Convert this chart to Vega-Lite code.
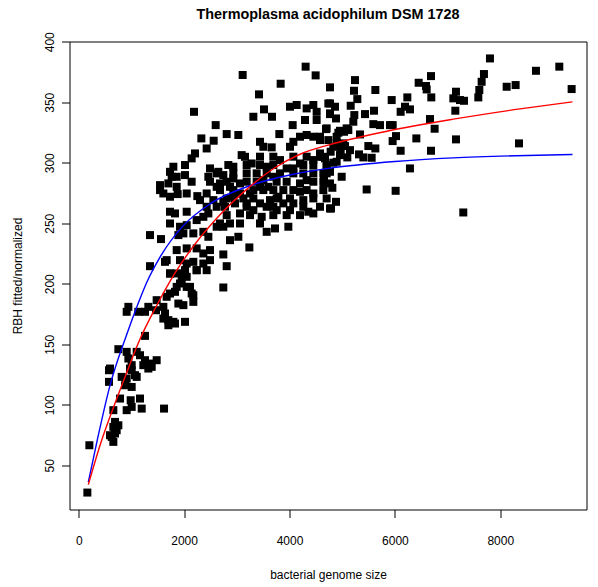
{
  "$schema": "https://vega.github.io/schema/vega-lite/v6.json",
  "width": 517,
  "height": 468,
  "autosize": "none",
  "padding": {"left": 69.5, "top": 41.5, "right": 11.5, "bottom": 77.5},
  "background": "white",
  "config": {
    "view": {"stroke": "black", "strokeWidth": 1},
    "font": "Liberation Sans",
    "axis": {
      "domain": false,
      "grid": false,
      "tickColor": "black",
      "tickSize": 8,
      "tickWidth": 1,
      "labelFont": "Liberation Sans",
      "labelFontSize": 12,
      "labelColor": "black",
      "titleFont": "Liberation Sans",
      "titleFontSize": 12,
      "titleFontWeight": "normal",
      "titleColor": "black"
    }
  },
  "title": {
    "text": "Thermoplasma acidophilum DSM 1728",
    "font": "Liberation Sans",
    "fontSize": 14.4,
    "fontWeight": "bold",
    "color": "black",
    "anchor": "middle",
    "offset": 9
  },
  "datasets": {
    "points": [
      {"x":164,"y":27.4},{"x":202,"y":66.5},{"x":657,"y":69.3},{"x":626,"y":73.4},{"x":689,"y":76.2},{"x":720,"y":78.9},{"x":752,"y":83.0},{"x":657,"y":81.7},{"x":689,"y":85.8},{"x":594,"y":74.8},
      {"x":657,"y":95.5},{"x":784,"y":105.1},{"x":986,"y":103.7},{"x":1005,"y":98.2},{"x":910,"y":95.5},{"x":1163,"y":105.1},{"x":1195,"y":96.8},{"x":1619,"y":96.8},{"x":575,"y":118.9},{"x":575,"y":128.5},
      {"x":594,"y":129.9},{"x":815,"y":123.0},{"x":879,"y":116.1},{"x":1005,"y":114.7},{"x":910,"y":121.6},{"x":973,"y":129.9},{"x":1005,"y":132.7},{"x":1068,"y":124.4},{"x":1100,"y":123.0},{"x":1005,"y":128.5},
      {"x":752,"y":145.9},{"x":910,"y":143.7},{"x":942,"y":138.2},{"x":1100,"y":143.7},{"x":1163,"y":140.9},{"x":1258,"y":136.8},{"x":1226,"y":132.7},{"x":1321,"y":129.9},{"x":1353,"y":134.0},{"x":1479,"y":136.8},
      {"x":1385,"y":131.3},{"x":1258,"y":156.9},{"x":942,"y":180.9},{"x":910,"y":176.8},{"x":1131,"y":176.8},{"x":1258,"y":176.8},{"x":1321,"y":180.9},{"x":1479,"y":186.4},{"x":1467,"y":178.1},{"x":1606,"y":180.9},
      {"x":1637,"y":175.4},{"x":1606,"y":171.2},{"x":1701,"y":169.9},{"x":1701,"y":165.7},{"x":1796,"y":168.5},{"x":1827,"y":167.1},{"x":2017,"y":168.5},{"x":1669,"y":189.2},{"x":1732,"y":191.9},{"x":1827,"y":193.3},
      {"x":1859,"y":197.4},{"x":1922,"y":200.2},{"x":1954,"y":202.9},{"x":2049,"y":205.7},{"x":2049,"y":197.4},{"x":2112,"y":197.4},{"x":2144,"y":191.9},{"x":2175,"y":190.5},{"x":2175,"y":185.0},{"x":1891,"y":183.6},
      {"x":1986,"y":182.3},{"x":1732,"y":208.4},{"x":2238,"y":211.2},{"x":2744,"y":196.9},
      {"x":3111,"y":372.5},{"x":4306,"y":379.4},{"x":4496,"y":372.2},{"x":3832,"y":365.3},{"x":3421,"y":356.5},{"x":2188,"y":342.1},{"x":3516,"y":344.1},{"x":3314,"y":338.0},{"x":3668,"y":338.0},{"x":2599,"y":331.1},
      {"x":4009,"y":346.3},{"x":4136,"y":347.7},{"x":4325,"y":344.9},{"x":4452,"y":347.7},{"x":4515,"y":342.1},{"x":4768,"y":349.0},{"x":4768,"y":340.8},{"x":4294,"y":335.3},{"x":4515,"y":335.3},{"x":4060,"y":331.1},
      {"x":2808,"y":323.7},{"x":3029,"y":322.9},{"x":2327,"y":320.1},{"x":2561,"y":318.2},{"x":2428,"y":311.8},{"x":3440,"y":317.3},{"x":3504,"y":313.2},{"x":3662,"y":312.7},{"x":3807,"y":323.7},{"x":4199,"y":321.5},
      {"x":4073,"y":317.3},{"x":4009,"y":313.2},{"x":4325,"y":322.9},{"x":4452,"y":321.5},{"x":4579,"y":318.7},{"x":4705,"y":328.4},{"x":2207,"y":307.7},{"x":2143,"y":303.6},{"x":1796,"y":296.7},{"x":1764,"y":288.4},
      {"x":2017,"y":298.1},{"x":2017,"y":289.8},{"x":1543,"y":281.5},{"x":1701,"y":282.9},{"x":1606,"y":274.6},{"x":1859,"y":280.1},{"x":1878,"y":274.1},{"x":2143,"y":284.3},{"x":2491,"y":295.3},{"x":2460,"y":288.4},
      {"x":2649,"y":292.5},{"x":2744,"y":289.8},{"x":2681,"y":282.9},{"x":2839,"y":298.1},{"x":2934,"y":296.7},{"x":3092,"y":306.3},{"x":3155,"y":304.9},{"x":3282,"y":299.4},{"x":3377,"y":291.2},{"x":3187,"y":291.2},
      {"x":2934,"y":287.0},{"x":3061,"y":282.9},{"x":2871,"y":280.1},{"x":2618,"y":280.1},{"x":2251,"y":272.4},{"x":2428,"y":274.6},{"x":2555,"y":269.1},{"x":2744,"y":267.7},{"x":2934,"y":271.9},{"x":3061,"y":274.6},
      {"x":3250,"y":274.6},{"x":3440,"y":280.1},{"x":3598,"y":280.1},{"x":3693,"y":277.4},{"x":3788,"y":271.9},{"x":3820,"y":302.2},{"x":3946,"y":295.3},{"x":4073,"y":295.3},{"x":4199,"y":299.4},{"x":4452,"y":302.2},
      {"x":4642,"y":304.9},{"x":4579,"y":307.7},{"x":3693,"y":288.4},{"x":3504,"y":285.6},{"x":3567,"y":296.7},{"x":3630,"y":269.1},{"x":3440,"y":266.4},{"x":3187,"y":266.4},{"x":2966,"y":266.4},{"x":2776,"y":263.6},
      {"x":3061,"y":258.1},{"x":3314,"y":260.8},{"x":3472,"y":255.3},{"x":3567,"y":263.6},{"x":3757,"y":260.8},{"x":3883,"y":266.4},{"x":4009,"y":260.8},{"x":4073,"y":266.4},{"x":4262,"y":269.1},{"x":4199,"y":276.0},
      {"x":4452,"y":274.6},{"x":4325,"y":285.6},{"x":4199,"y":282.9},{"x":4705,"y":291.2},{"x":4768,"y":282.9},{"x":4357,"y":259.5},{"x":4452,"y":258.1},{"x":4768,"y":262.2},{"x":1732,"y":259.5},{"x":1827,"y":258.1},
      {"x":2049,"y":259.5},{"x":1732,"y":249.8},{"x":1922,"y":247.1},{"x":2049,"y":248.4},{"x":2238,"y":252.6},{"x":2365,"y":255.3},{"x":2460,"y":258.1},{"x":2428,"y":263.6},{"x":1353,"y":240.2},{"x":1561,"y":236.9},
      {"x":1891,"y":240.2},{"x":1986,"y":241.6},{"x":2175,"y":241.6},{"x":2365,"y":242.9},{"x":2460,"y":238.8},{"x":2618,"y":247.1},{"x":2681,"y":249.8},{"x":2744,"y":247.1},{"x":2871,"y":249.8},{"x":2871,"y":236.0},
      {"x":3029,"y":238.8},{"x":3238,"y":230.0},{"x":3567,"y":242.9},{"x":3725,"y":245.7},{"x":3978,"y":247.1},{"x":1859,"y":227.8},{"x":2049,"y":229.2},{"x":2238,"y":229.2},{"x":2365,"y":225.0},{"x":2491,"y":227.8},
      {"x":2744,"y":224.2},{"x":1637,"y":218.1},{"x":1669,"y":219.5},{"x":1922,"y":219.5},{"x":2049,"y":216.7},{"x":2175,"y":218.1},{"x":2365,"y":216.7},{"x":2491,"y":219.5},{"x":2808,"y":214.5},{"x":1353,"y":214.5},
      {"x":1732,"y":208.5},{"x":1859,"y":208.5},{"x":1986,"y":208.5},{"x":2017,"y":211.2},{"x":2238,"y":211.2},{"x":2428,"y":211.2},
      {"x":3440,"y":305.0},{"x":3693,"y":305.0},{"x":4073,"y":305.0},{"x":4325,"y":305.0},
      {"x":3187,"y":298.1},{"x":3440,"y":298.1},{"x":3693,"y":298.1},{"x":4262,"y":298.1},{"x":4452,"y":298.1},{"x":4705,"y":298.1},
      {"x":2618,"y":291.2},{"x":2934,"y":291.2},{"x":3567,"y":291.2},{"x":3820,"y":291.2},{"x":4073,"y":291.2},{"x":4262,"y":291.2},{"x":4452,"y":291.2},{"x":4642,"y":291.2},
      {"x":2491,"y":284.3},{"x":2808,"y":284.3},{"x":3187,"y":284.3},{"x":3377,"y":284.3},{"x":3756,"y":284.3},{"x":3946,"y":284.3},{"x":4452,"y":284.3},{"x":4642,"y":284.3},
      {"x":2681,"y":277.4},{"x":2934,"y":277.4},{"x":3314,"y":277.4},{"x":3503,"y":277.4},{"x":3883,"y":277.4},{"x":4073,"y":277.4},{"x":4325,"y":277.4},{"x":4642,"y":277.4},
      {"x":2808,"y":270.5},{"x":3124,"y":270.5},{"x":3314,"y":270.5},{"x":3756,"y":270.5},{"x":4009,"y":270.5},{"x":4452,"y":270.5},{"x":4705,"y":270.5},
      {"x":2618,"y":263.6},{"x":3187,"y":263.6},{"x":3693,"y":263.6},{"x":4262,"y":263.6},{"x":4579,"y":263.6},
      {"x":2808,"y":256.7},{"x":3250,"y":256.7},{"x":3693,"y":256.7},{"x":3946,"y":256.7},{"x":4199,"y":256.7},
      {"x":3061,"y":249.8},{"x":3440,"y":249.8},
      {"x":1732,"y":292.5},{"x":1859,"y":288.4},{"x":2049,"y":274.6},{"x":2302,"y":269.1},{"x":1732,"y":271.9},{"x":1543,"y":277.4},
      {"x":4737,"y":318.7},{"x":4832,"y":313.2},{"x":4705,"y":296.7},{"x":4958,"y":306.3},{"x":5148,"y":310.4},{"x":4895,"y":321.5},{"x":4768,"y":292.5},
      {"x":7804,"y":386.2},{"x":8677,"y":376.0},{"x":9120,"y":379.4},{"x":9354,"y":360.9},{"x":8121,"y":362.8},{"x":8291,"y":364.2},{"x":7690,"y":373.3},{"x":7646,"y":366.9},{"x":7602,"y":360.1},{"x":7583,"y":354.0},
      {"x":7298,"y":258.9},{"x":8355,"y":316.0},{"x":7159,"y":358.7},{"x":7109,"y":353.2},{"x":7235,"y":351.8},{"x":7311,"y":351.2},{"x":7147,"y":343.0},{"x":7159,"y":319.3},{"x":6685,"y":371.6},{"x":6590,"y":363.4},
      {"x":6603,"y":360.6},{"x":6451,"y":366.1},{"x":6691,"y":354.0},{"x":6666,"y":336.1},{"x":6754,"y":328.1},{"x":6685,"y":309.9},{"x":6407,"y":320.1},{"x":6286,"y":295.3},{"x":6236,"y":354.0},{"x":6192,"y":346.3},
      {"x":6286,"y":344.1},{"x":6109,"y":342.1},{"x":5939,"y":351.8},{"x":5629,"y":360.1},{"x":5603,"y":343.0},{"x":5717,"y":331.1},{"x":5591,"y":331.9},{"x":5907,"y":331.1},{"x":5958,"y":331.1},{"x":6021,"y":322.0},
      {"x":5957,"y":317.9},{"x":6109,"y":309.9},{"x":6014,"y":276.8},{"x":5464,"y":277.9},{"x":5629,"y":311.8},{"x":5496,"y":313.8},{"x":5559,"y":304.1},{"x":5401,"y":304.4},{"x":5319,"y":306.9},{"x":5338,"y":323.4},
      {"x":5433,"y":340.2},{"x":5243,"y":368.3},{"x":5224,"y":359.5},{"x":5287,"y":352.6},{"x":5161,"y":347.1},{"x":5230,"y":339.4},{"x":5211,"y":333.9},{"x":5085,"y":328.4},{"x":5116,"y":327.0},{"x":5034,"y":325.6},
      {"x":4958,"y":326.4},{"x":4927,"y":324.8},{"x":5021,"y":316.0},{"x":5053,"y":313.8},{"x":4895,"y":316.0},{"x":4971,"y":310.4},{"x":5097,"y":304.4},{"x":4895,"y":300.8},{"x":4832,"y":300.0},{"x":4990,"y":288.4},
      {"x":4813,"y":279.3},{"x":4882,"y":267.7},{"x":4787,"y":262.2},{"x":4655,"y":288.4},{"x":4655,"y":283.4},{"x":4674,"y":303.6},{"x":4579,"y":304.9},{"x":4768,"y":362.3},{"x":4737,"y":349.0},{"x":4768,"y":340.2},
      {"x":4863,"y":346.3},{"x":4882,"y":336.6},{"x":4692,"y":327.8},{"x":4781,"y":309.1},{"x":4579,"y":321.5}
    ],
    "curves": [
      {"s":"blue","x":182,"y":36},{"s":"blue","x":353,"y":71},{"s":"blue","x":594,"y":116},{"s":"blue","x":911,"y":158},{"s":"blue","x":1131,"y":184},{"s":"blue","x":1290,"y":201},{"s":"blue","x":1543,"y":222},{"s":"blue","x":1985,"y":248},{"s":"blue","x":2491,"y":266},{"s":"blue","x":3314,"y":282},{"s":"blue","x":4072,"y":290.5},{"s":"blue","x":4769,"y":295.5},{"s":"blue","x":6000,"y":301},{"s":"blue","x":7108,"y":304},{"s":"blue","x":8300,"y":305.8},{"s":"blue","x":9370,"y":306.8},
      {"s":"red","x":182,"y":34},{"s":"red","x":423,"y":69},{"s":"red","x":721,"y":105},{"s":"red","x":941,"y":130},{"s":"red","x":1131,"y":151},{"s":"red","x":1480,"y":182},{"s":"red","x":1814,"y":208},{"s":"red","x":2176,"y":231},{"s":"red","x":2681,"y":257},{"s":"red","x":3188,"y":278},{"s":"red","x":3693,"y":295},{"s":"red","x":4199,"y":307},{"s":"red","x":4769,"y":315},{"s":"red","x":5844,"y":326},{"s":"red","x":7108,"y":336},{"s":"red","x":8374,"y":344.5},{"s":"red","x":9370,"y":350.3}
    ]
  },
  "layer": [
    {
      "data": {"name": "points"},
      "mark": {"type": "point", "shape": "square", "filled": true, "size": 64, "color": "black", "opacity": 1},
      "encoding": {
        "x": {"field": "x", "type": "quantitative", "scale": {"domain": [-175, 9636], "nice": false, "zero": false},
          "axis": {"values": [0, 2000, 4000, 6000, 8000], "format": "d", "title": "bacterial genome size", "labelPadding": 18, "titlePadding": 23}},
        "y": {"field": "y", "type": "quantitative", "scale": {"domain": [13.4, 400.2], "nice": false, "zero": false},
          "axis": {"values": [50, 100, 150, 200, 250, 300, 350, 400], "labelAngle": -90, "labelAlign": "center", "labelBaseline": "bottom", "labelPadding": 5, "title": "RBH fitted/normalized", "titlePadding": 19}}
      }
    },
    {
      "data": {"name": "curves"},
      "mark": {"type": "line", "strokeWidth": 1.4, "interpolate": "monotone"},
      "encoding": {
        "x": {"field": "x", "type": "quantitative"},
        "y": {"field": "y", "type": "quantitative"},
        "color": {"field": "s", "type": "nominal", "scale": {"domain": ["blue", "red"], "range": ["#0000ff", "#ff0000"]}, "legend": null}
      }
    }
  ]
}
